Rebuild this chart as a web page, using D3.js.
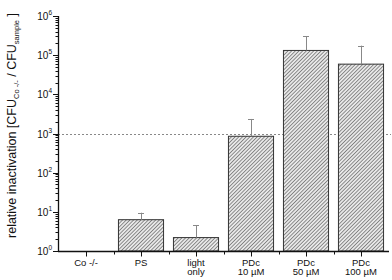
<!DOCTYPE html>
<html>
<head>
<meta charset="utf-8">
<script src="https://d3js.org/d3.v7.min.js"></script>
<style>
  body { margin: 0; background: #fff; }
  svg text { font-family: "Liberation Sans", Arial, sans-serif; fill: #111; }
</style>
</head>
<body>
<div id="chart"></div>
<script>
// Datos
const categories = ['Co -/-', 'PS', 'light only', 'PDc 10 µM', 'PDc 50 µM', 'PDc 100 µM'];
const catLines = [['Co -/-'], ['PS'], ['light', 'only'], ['PDc', '10 µM'], ['PDc', '50 µM'], ['PDc', '100 µM']];
const values = [null, 6.3, 2.2, 850, 132000, 59000];
const errorTops = [null, 9.5, 4.6, 2350, 300000, 175000];
const yTicks = [1, 10, 100, 1000, 10000, 100000, 1000000];
const thresholdValue = 1000;

const width = 392, height = 280;
const margin = { left: 58, right: 3, top: 16, bottom: 29 };

const svg = d3.select('#chart').append('svg')
    .attr('width', width)
    .attr('height', height);

// Patron de rayado
const defs = svg.append('defs');
const pat = defs.append('pattern')
    .attr('id', 'hatch')
    .attr('patternUnits', 'userSpaceOnUse')
    .attr('width', 2.6)
    .attr('height', 2.6)
    .attr('patternTransform', 'rotate(45)');
pat.append('rect').attr('width', 2.6).attr('height', 2.6).attr('fill', '#e8e8e8');
pat.append('line')
    .attr('x1', 0).attr('y1', 0).attr('x2', 0).attr('y2', 2.6)
    .attr('stroke', '#444').attr('stroke-width', 1.1);

// Escalas
const x = d3.scaleBand()
    .domain(categories)
    .range([margin.left + 0.5, width - margin.right - 0.5])
    .paddingInner(0.18)
    .paddingOuter(0.09);

const xCenter = d => x(d) + x.bandwidth() / 2;
const step = x.step();

const y = d3.scaleLog()
    .domain([1, 1e6])
    .range([height - margin.bottom, margin.top]);

// Linea de umbral
svg.append('line')
    .attr('x1', margin.left)
    .attr('x2', width - 1)
    .attr('y1', Math.round(y(thresholdValue)) + 0.5)
    .attr('y2', Math.round(y(thresholdValue)) + 0.5)
    .attr('stroke', '#888')
    .attr('stroke-width', 1)
    .attr('stroke-dasharray', '2,2');

// Barras
const data = categories.map((c, i) => ({ c, v: values[i], e: errorTops[i] }))
    .filter(d => d.v != null);

svg.append('g')
    .selectAll('rect')
    .data(data)
    .enter().append('rect')
    .attr('x', d => x(d.c))
    .attr('y', d => y(d.v))
    .attr('width', x.bandwidth())
    .attr('height', d => y(1) - y(d.v))
    .attr('fill', 'url(#hatch)')
    .attr('stroke', '#333')
    .attr('stroke-width', 1);

// Barras de error
const err = svg.append('g').attr('stroke', '#888').attr('stroke-width', 1);
err.selectAll('line.v')
    .data(data)
    .enter().append('line')
    .attr('class', 'v')
    .attr('x1', d => Math.round(xCenter(d.c)) + 0.5)
    .attr('x2', d => Math.round(xCenter(d.c)) + 0.5)
    .attr('y1', d => y(d.v))
    .attr('y2', d => y(d.e));
err.selectAll('line.cap')
    .data(data)
    .enter().append('line')
    .attr('class', 'cap')
    .attr('x1', d => xCenter(d.c) - 3)
    .attr('x2', d => xCenter(d.c) + 3)
    .attr('y1', d => Math.round(y(d.e)) + 0.5)
    .attr('y2', d => Math.round(y(d.e)) + 0.5);

// Eje Y
const yAxis = svg.append('g')
    .attr('transform', `translate(${margin.left},0)`);
yAxis.append('line')
    .attr('x1', 0.5).attr('x2', 0.5)
    .attr('y1', y(1e6)).attr('y2', y(1))
    .attr('stroke', '#111').attr('stroke-width', 1.3);

const minorTicks = [];
for (let p = 0; p < 6; p++) {
    for (let k = 2; k <= 9; k++) minorTicks.push(k * Math.pow(10, p));
}
yAxis.selectAll('line.minor')
    .data(minorTicks)
    .enter().append('line')
    .attr('class', 'minor')
    .attr('x1', -2.5).attr('x2', 0.5)
    .attr('y1', d => Math.round(y(d)) + 0.5)
    .attr('y2', d => Math.round(y(d)) + 0.5)
    .attr('stroke', '#111');
yAxis.selectAll('line.major')
    .data(yTicks)
    .enter().append('line')
    .attr('class', 'major')
    .attr('x1', -5).attr('x2', 0.5)
    .attr('y1', d => Math.round(y(d)) + 0.5)
    .attr('y2', d => Math.round(y(d)) + 0.5)
    .attr('stroke', '#111');

const yLab = yAxis.selectAll('text.tick')
    .data(yTicks)
    .enter().append('text')
    .attr('class', 'tick')
    .attr('x', -6)
    .attr('y', d => y(d) + 4)
    .attr('text-anchor', 'end')
    .attr('font-size', 10);
yLab.append('tspan').text('10');
yLab.append('tspan')
    .attr('dy', -5)
    .attr('font-size', 6.5)
    .text(d => Math.round(Math.log10(d)));

// Eje X
const xAxis = svg.append('g')
    .attr('transform', `translate(0,${Math.round(y(1))})`);
xAxis.append('line')
    .attr('x1', margin.left).attr('x2', width - margin.right)
    .attr('y1', 0.5).attr('y2', 0.5)
    .attr('stroke', '#111').attr('stroke-width', 1.3);
xAxis.selectAll('line.tick')
    .data(categories)
    .enter().append('line')
    .attr('class', 'tick')
    .attr('x1', d => Math.round(xCenter(d)) + 0.5)
    .attr('x2', d => Math.round(xCenter(d)) + 0.5)
    .attr('y1', 0.5).attr('y2', 5.5)
    .attr('stroke', '#111');
xAxis.selectAll('line.sep')
    .data(categories.slice(1))
    .enter().append('line')
    .attr('class', 'sep')
    .attr('x1', d => Math.round(xCenter(d) - step / 2) + 0.5)
    .attr('x2', d => Math.round(xCenter(d) - step / 2) + 0.5)
    .attr('y1', 0.5).attr('y2', 3.5)
    .attr('stroke', '#111');

const xLab = xAxis.selectAll('text.lab')
    .data(categories)
    .enter().append('text')
    .attr('class', 'lab')
    .attr('text-anchor', 'middle')
    .attr('font-size', 9.5)
    .attr('y', 14.5);
xLab.each(function(d, i) {
    const t = d3.select(this);
    catLines[i].forEach((line, j) => {
        t.append('tspan')
            .attr('x', xCenter(d))
            .attr('dy', j === 0 ? 0 : 9.5)
            .text(line);
    });
});

// Titulo eje Y
const yTitle = svg.append('text')
    .attr('transform', `translate(16,${(y(1) + y(1e6)) / 2 - 8}) rotate(-90)`)
    .attr('text-anchor', 'middle')
    .attr('font-size', 12.5);
yTitle.append('tspan').text('relative inactivation [CFU');
yTitle.append('tspan').attr('dy', 3).attr('font-size', 7.5).text('Co -/-');
yTitle.append('tspan').attr('dy', -3).text(' / CFU');
yTitle.append('tspan').attr('dy', 3).attr('font-size', 7.5).text('sample');
yTitle.append('tspan').attr('dy', -3).text(' ]');
</script>
</body>
</html>
